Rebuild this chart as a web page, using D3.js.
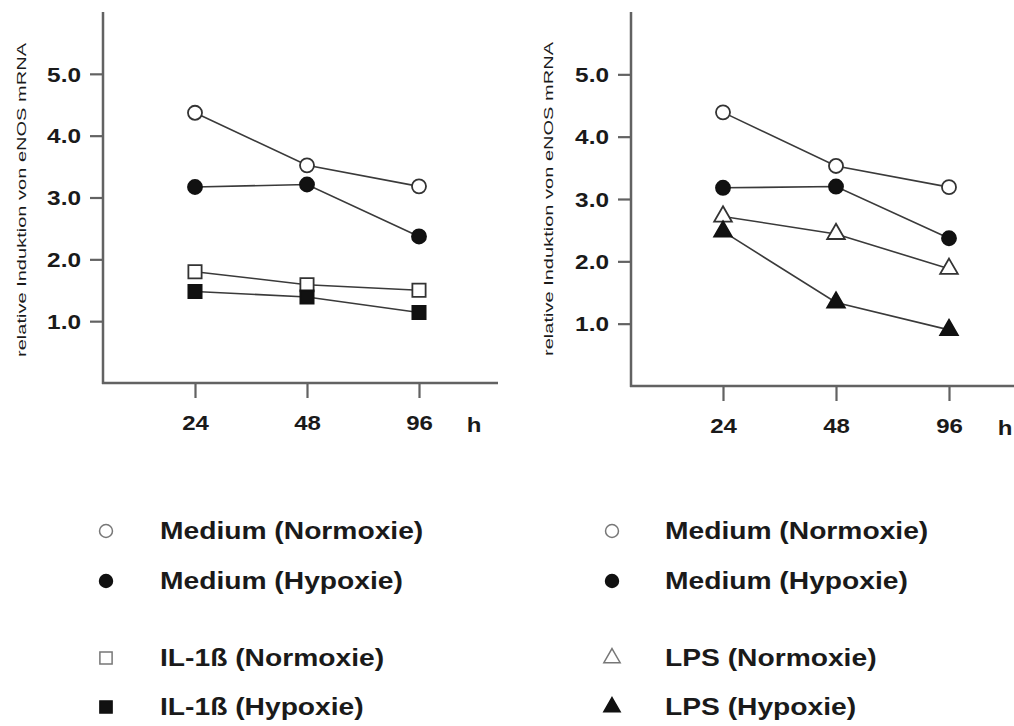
<!DOCTYPE html>
<html>
<head>
<meta charset="utf-8">
<script src="https://cdn.jsdelivr.net/npm/d3@7"></script>
<style>
  html, body { margin: 0; padding: 0; background: #fff; }
  svg { display: block; }
  text { font-family: "Liberation Sans", Arial, Helvetica, sans-serif; fill: #1a1a1a; }
</style>
</head>
<body>
<svg id="chart" width="1014" height="726"></svg>
<script>
// ---- data ----
const times = ["24", "48", "96"];
const yTicks = [1, 2, 3, 4, 5];
const yLabel = "relative Induktion von eNOS mRNA";
const xUnit = "h";

const leftMediumNorm = [4.37, 3.52, 3.18];
const leftMediumHyp  = [3.17, 3.21, 2.37];
const il1bNorm       = [1.80, 1.59, 1.50];
const il1bHyp        = [1.48, 1.39, 1.14];

const rightMediumNorm = [4.39, 3.53, 3.19];
const rightMediumHyp  = [3.18, 3.20, 2.37];
const lpsNorm         = [2.72, 2.44, 1.88];
const lpsHyp          = [2.48, 1.34, 0.90];

const leftNames  = ["Medium (Normoxie)", "Medium (Hypoxie)", "IL-1ß (Normoxie)", "IL-1ß (Hypoxie)"];
const rightNames = ["Medium (Normoxie)", "Medium (Hypoxie)", "LPS (Normoxie)", "LPS (Hypoxie)"];

// ---- setup ----
const svg = d3.select("#chart");
const AXIS = "#626262", LINE = "#3a3a3a", STRETCH = 1.2;

// horizontally stretch text while keeping its anchor position correct
function stretch(sel, factor) {
  sel.each(function() {
    const t = d3.select(this);
    const len = this.getComputedTextLength();
    const newLen = len * factor;
    const anchor = t.attr("text-anchor") || getComputedStyle(this).textAnchor || "start";
    const x0 = +(t.attr("x") || 0);
    let x = x0;
    if (anchor === "end") x = x0 - newLen;
    else if (anchor === "middle") x = x0 - newLen / 2;
    t.attr("text-anchor", "start").attr("x", x)
      .attr("textLength", newLen).attr("lengthAdjust", "spacingAndGlyphs");
  });
}

function markerPath(shape, big) {
  const s = big ? 1 : 0.85;
  if (shape === "circle") return d3.symbol(d3.symbolCircle, 155 * s)();
  if (shape === "square") return d3.symbol(d3.symbolSquare, 175 * s)();
  return d3.symbol(d3.symbolTriangle, 135 * s)();
}

function drawPanel(cfg) {
  const g = svg.append("g");
  const x = d3.scalePoint().domain(times).range([cfg.x24, cfg.x96]);
  const y = d3.scaleLinear().domain([0, 6]).range([cfg.yBottom, 12]);

  // y axis
  const ya = g.append("g").attr("transform", `translate(${cfg.x0},0)`)
    .call(d3.axisLeft(y).tickValues(yTicks).tickFormat(d3.format(".1f")).tickSize(13).tickPadding(9));
  ya.select(".domain").remove();
  ya.selectAll(".tick line").attr("stroke", AXIS).attr("stroke-width", 2.2);
  ya.selectAll(".tick text").attr("font-size", 20).attr("font-weight", "bold").attr("fill", "#1a1a1a")
    .attr("text-anchor", "end").attr("dy", "0.36em").call(stretch, 1.22);
  g.append("line").attr("x1", cfg.x0).attr("x2", cfg.x0).attr("y1", 12).attr("y2", cfg.yBottom + 1)
    .attr("stroke", AXIS).attr("stroke-width", 2.5);

  // x axis
  const xa = g.append("g").attr("transform", `translate(0,${cfg.yBottom})`)
    .call(d3.axisBottom(x).tickSize(15).tickPadding(18));
  xa.select(".domain").remove();
  xa.selectAll(".tick line").attr("stroke", AXIS).attr("stroke-width", 2.2);
  xa.selectAll(".tick text").attr("font-size", 20).attr("font-weight", "bold").attr("fill", "#1a1a1a")
    .attr("text-anchor", "middle").call(stretch, STRETCH);
  g.append("line").attr("x1", cfg.x0 - 1).attr("x2", cfg.xEnd).attr("y1", cfg.yBottom).attr("y2", cfg.yBottom)
    .attr("stroke", AXIS).attr("stroke-width", 2.5);
  g.append("text").attr("x", cfg.hX).attr("y", cfg.yBottom + 49).attr("text-anchor", "middle")
    .attr("font-size", 20).attr("font-weight", "bold").text(xUnit).call(stretch, STRETCH);

  // y label
  g.append("text").attr("transform", `translate(${cfg.labelX},${cfg.labelY}) rotate(-90)`)
    .attr("text-anchor", "middle").attr("font-size", 12.5).attr("fill", "#222")
    .attr("textLength", 314).attr("lengthAdjust", "spacingAndGlyphs").text(yLabel);

  // series
  const line = d3.line().x((d, i) => x(times[i])).y(d => y(d));
  cfg.series.forEach(s => {
    g.append("path").datum(s.values).attr("d", line).attr("fill", "none")
      .attr("stroke", LINE).attr("stroke-width", 1.6);
  });
  cfg.series.forEach(s => {
    g.selectAll(null).data(s.values).enter().append("path")
      .attr("d", markerPath(s.shape, true))
      .attr("transform", (d, i) => `translate(${x(times[i])},${y(d)})`)
      .attr("fill", s.filled ? "#111" : "#fff")
      .attr("stroke", s.filled ? "#111" : "#333").attr("stroke-width", 1.8);
  });

  // legend
  const rowsY = [531, 581, 658, 707];
  cfg.series.forEach((s, i) => {
    svg.append("path").attr("d", markerPath(s.shape, false))
      .attr("transform", `translate(${cfg.legSymX},${rowsY[i]})`)
      .attr("fill", s.filled ? "#111" : "#fff")
      .attr("stroke", s.filled ? "#111" : "#777").attr("stroke-width", 1.5);
    svg.append("text").attr("x", cfg.legTextX).attr("y", rowsY[i]).attr("dy", "0.36em")
      .attr("font-size", 23.5).attr("font-weight", "bold").text(s.name).call(stretch, STRETCH);
  });
}

drawPanel({
  x0: 103, xEnd: 498, yBottom: 383, x24: 195, x96: 419, hX: 474,
  labelX: 26, labelY: 200, legSymX: 106, legTextX: 160,
  series: [
    { name: leftNames[0], values: leftMediumNorm, shape: "circle", filled: false },
    { name: leftNames[1], values: leftMediumHyp,  shape: "circle", filled: true },
    { name: leftNames[2], values: il1bNorm,       shape: "square", filled: false },
    { name: leftNames[3], values: il1bHyp,        shape: "square", filled: true }
  ]
});

drawPanel({
  x0: 631, xEnd: 1014, yBottom: 386, x24: 723, x96: 949, hX: 1005,
  labelX: 553, labelY: 199, legSymX: 612, legTextX: 665,
  series: [
    { name: rightNames[0], values: rightMediumNorm, shape: "circle",   filled: false },
    { name: rightNames[1], values: rightMediumHyp,  shape: "circle",   filled: true },
    { name: rightNames[2], values: lpsNorm,         shape: "triangle", filled: false },
    { name: rightNames[3], values: lpsHyp,          shape: "triangle", filled: true }
  ]
});
</script>
</body>
</html>
